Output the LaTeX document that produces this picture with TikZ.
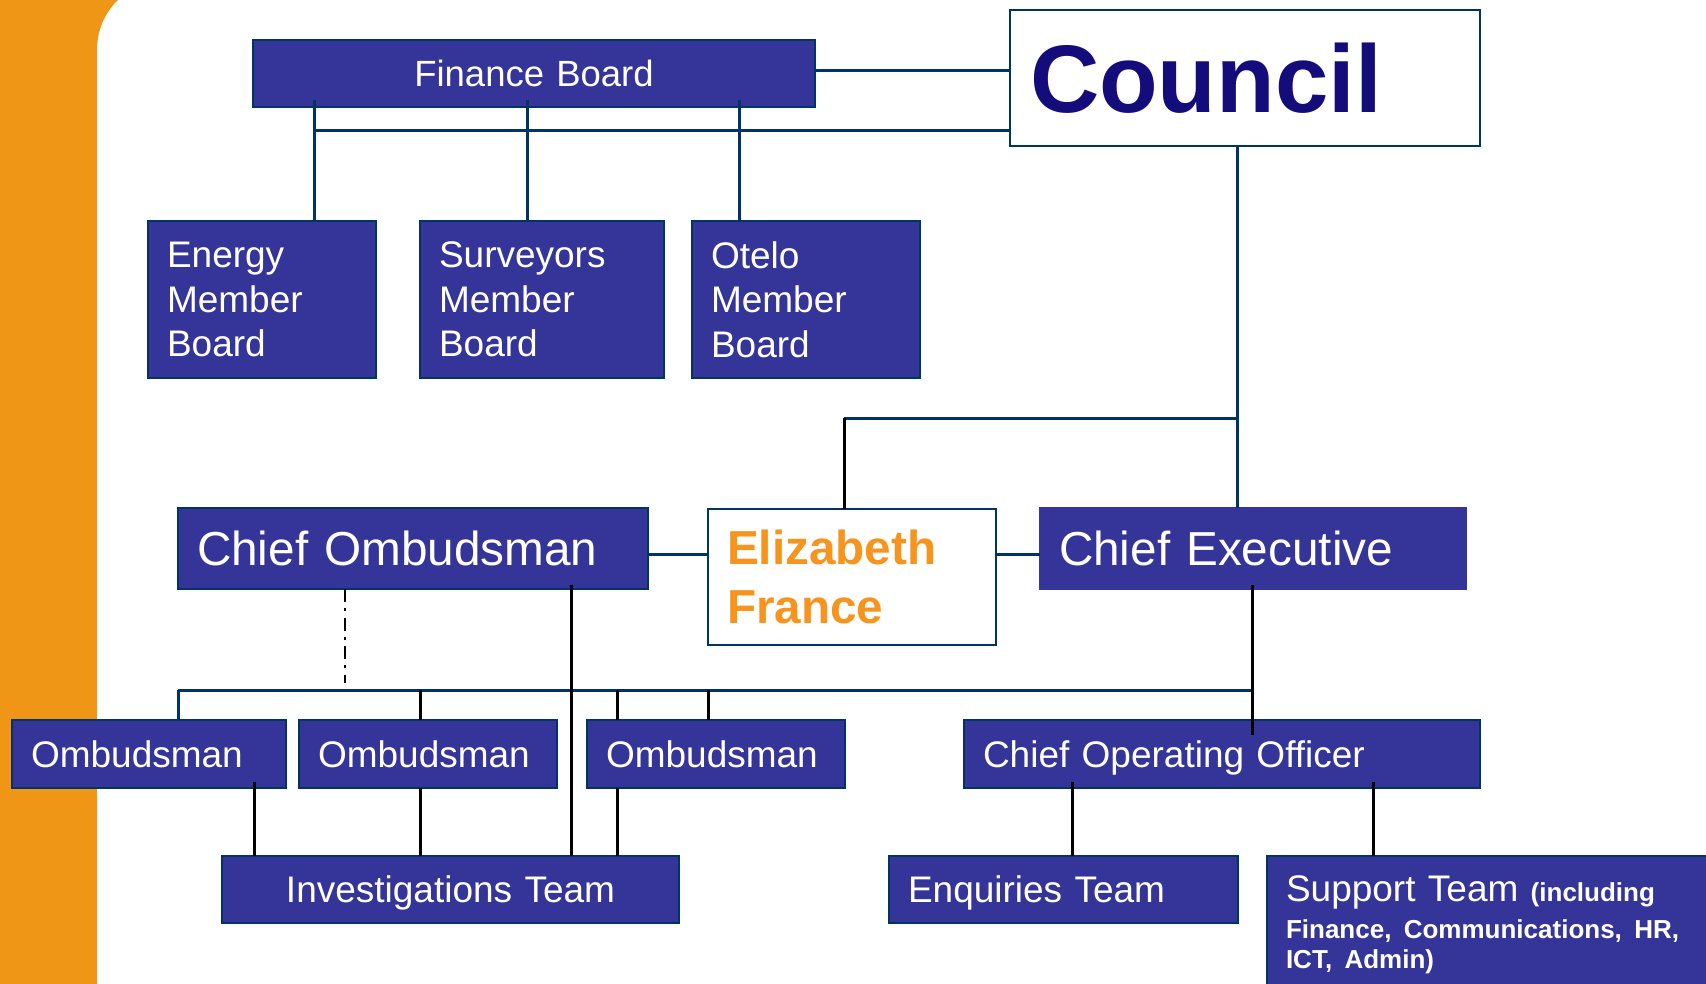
\documentclass[tikz,border=0pt]{standalone}
\usepackage{fontspec}
\setmainfont{Liberation Sans}
\usetikzlibrary{calc}

\definecolor{boxfill}{RGB}{53,52,152}
\definecolor{navy}{RGB}{0,51,102}
\definecolor{councilink}{RGB}{20,12,122}
\definecolor{efink}{RGB}{247,148,30}
\definecolor{sidebar}{RGB}{240,150,22}

\newcommand\fsmall{\fontsize{37}{44.5}\selectfont}
\newcommand\fbig{\fontsize{47.7}{56}\selectfont}
\newcommand\fnote{\bfseries\fontsize{26}{29.3}\selectfont}

\begin{document}
\begin{tikzpicture}[x=1pt,y=-1pt,
  every node/.style={outer sep=0pt},
  unit/.style={draw=navy, line width=2.5pt, fill=boxfill, text=white,
    anchor=north west, inner xsep=19pt, inner ysep=0pt, align=left, font=\fsmall},
  oneline/.style={text height=#1, text depth=0pt},
  navyline/.style={draw=navy, line width=3pt},
  blackline/.style={draw=black, line width=3pt},
  dashdot/.style={draw=black, line width=2.5pt, dash pattern=on 13pt off 6pt on 3pt off 6.5pt},
]
% page and orange side band
\fill[white] (0,0) rectangle (1706,984);
\useasboundingbox (0,0) rectangle (1706,984);
\fill[sidebar] (0,0) rectangle (200,984);
\fill[white, rounded corners=70pt] (97,1100) -- (97,-20) -- (1800,-20) -- (1800,1100) -- cycle;

% governance
\node[unit, align=center, text width=524pt, minimum height=67pt, oneline=26.1pt,
      font=\fontsize{36.5}{44}\selectfont] (fin) at (253,40) {Finance Board};
\node[unit, fill=white, text=councilink, inner xsep=20pt, text width=430pt, minimum height=136pt, oneline=68.5pt,
      font=\fontsize{96}{110}\selectfont\bfseries] (council) at (1010,10) {Council};

\node[unit, text width=190pt, minimum height=157pt] (energy) at (148,221) {Energy\\Member\\Board};
\node[unit, text width=206pt, minimum height=157pt] (surveyors) at (420,221) {Surveyors\\Member\\Board};
\node[unit, text width=190pt, minimum height=157pt] (otelo) at (692,221) {Otelo\\Member\\Board};

% senior level
\node[unit, text width=432pt, minimum height=81pt, oneline=34.2pt, font=\fbig] (chiefomb) at (178,508) {Chief Ombudsman};
\node[unit, fill=white, text=efink, text width=250pt, minimum height=136pt,
      font=\fontsize{47.7}{58.7}\selectfont\bfseries] (ef) at (708,509) {Elizabeth\\France};
\node[unit, draw=boxfill, text width=388pt, minimum height=81pt, oneline=34.2pt, font=\fbig] (ce) at (1040,508) {Chief Executive};

% ombudsmen and operations
\node[unit, text width=236pt, minimum height=68pt, oneline=26.5pt] (omb1) at (12,720) {Ombudsman};
\node[unit, text width=220pt, minimum height=68pt, oneline=26.5pt] (omb2) at (299,720) {Ombudsman};
\node[unit, text width=220pt, minimum height=68pt, oneline=26.5pt] (omb3) at (587,720) {Ombudsman};
\node[unit, text width=478pt, minimum height=68pt, oneline=26.5pt] (coo) at (964,720) {Chief Operating Officer};

% teams
\node[unit, align=center, text width=419pt, minimum height=67pt, oneline=26.5pt] (inv) at (222,856) {Investigations Team};
\node[unit, text width=311pt, minimum height=67pt, oneline=26.5pt] (enq) at (889,856) {Enquiries Team};
\node[unit, text width=430pt, inner ysep=20pt, font=\fontsize{37}{29.3}\selectfont] (sup) at (1267,856)
  {Support Team {\fnote (including}\\[7.7pt]
   {\fnote Finance, Communications, HR,}\\
   {\fnote ICT, Admin)}};

% junction points
\coordinate (fcy) at (0,71);
\coordinate (fbA) at (314,131);
\coordinate (fbB) at (527,131);
\coordinate (fbC) at (739,131);
\coordinate (cx) at (1237,418);
\coordinate (efx) at (844,418);
\coordinate (midy) at (0,554);
\coordinate (busL) at (178,690);
\coordinate (busR) at (1252,690);
\coordinate (d2) at (420,690);
\coordinate (d3) at (617,690);
\coordinate (d4) at (708,690);
\coordinate (dd) at (345,683);
\coordinate (cov) at (571,0);
\coordinate (i1) at (254,0);
\coordinate (e1) at (1072,0);
\coordinate (s1) at (1373,0);

% finance board links
\draw[navyline] (fin.east |- fcy) -- (council.west |- fcy);
\draw[navyline] (fbA) -- (fbA -| council.west);
\draw[navyline] ($(fin.south -| fbA)+(0,-7)$) -- (energy.north -| fbA);
\draw[navyline] ($(fin.south -| fbB)+(0,-7)$) -- (surveyors.north -| fbB);
\draw[navyline] ($(fin.south -| fbC)+(0,-7)$) -- (otelo.north -| fbC);

% council down to the executive level
\draw[navyline] (council.south -| cx) -- (ce.north -| cx);
\draw[navyline] (efx) -- (cx);
\draw[blackline] (efx) -- (ef.north -| efx);
\draw[navyline] (chiefomb.east |- midy) -- (ef.west |- midy);
\draw[navyline] (ef.east |- midy) -- (ce.west |- midy);

% bus to the ombudsmen
\draw[navyline] (busL) -- (busR);
\draw[navyline] (busL) -- (omb1.north -| busL);
\draw[blackline] (d2) -- (omb2.north -| d2);
\draw[blackline] (d3) -- (omb3.north -| d3);
\draw[blackline] (d4) -- (omb3.north -| d4);
\draw[dashdot] (chiefomb.south -| dd) -- (dd);
\draw[blackline] ($(ce.south -| busR)+(0,-4)$) -- ($(coo.north -| busR)+(0,15)$);

% links to the teams
\draw[blackline] ($(chiefomb.south -| cov)+(0,-4)$) -- (inv.north -| cov);
\draw[blackline] ($(omb1.south -| i1)+(0,-6)$) -- (inv.north -| i1);
\draw[blackline] (omb2.south -| d2) -- (inv.north -| d2);
\draw[blackline] (omb3.south -| d3) -- (inv.north -| d3);
\draw[blackline] ($(coo.south -| e1)+(0,-6)$) -- (enq.north -| e1);
\draw[blackline] ($(coo.south -| s1)+(0,-6)$) -- (sup.north -| s1);
\end{tikzpicture}
\end{document}
